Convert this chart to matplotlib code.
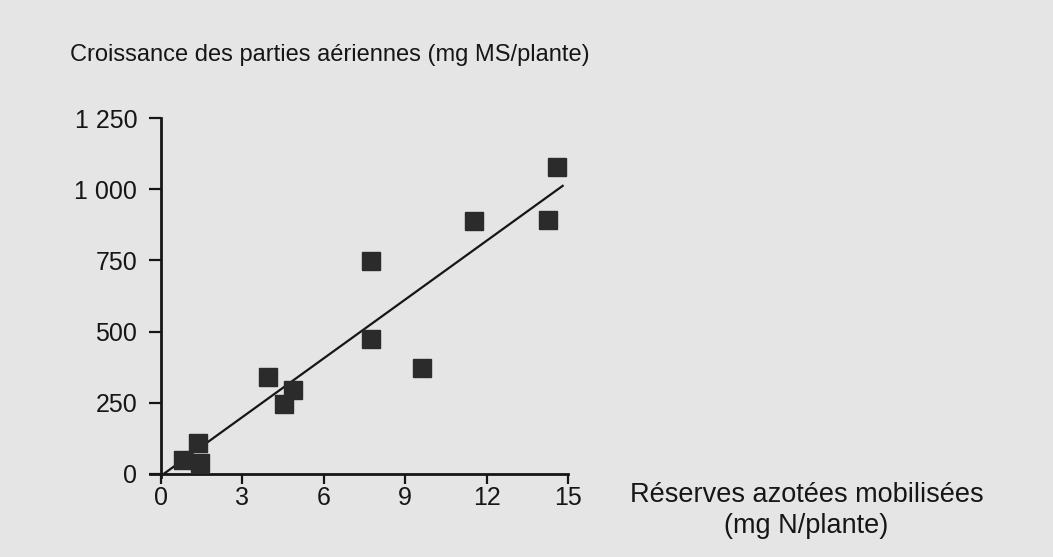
import matplotlib
matplotlib.use("Agg")
import matplotlib.pyplot as plt

# Reserves (mg N/plante) vs shoot growth (mg MS/plante)
reserves = [0.8, 1.35, 1.45, 3.95, 4.55, 4.85, 7.75, 7.75, 9.6, 11.55, 14.25, 14.6]
croissance = [50, 110, 38, 340, 245, 296, 748, 474, 372, 888, 892, 1078]

# regression line
fit_x = [0.1, 14.8]
fit_y = [0, 1012]

x_ticks = [0, 3, 6, 9, 12, 15]
y_ticks = [0, 250, 500, 750, 1000, 1250]
y_tick_labels = ["0", "250", "500", "750", "1 000", "1 250"]

plt.rcParams["font.family"] = ["Liberation Sans", "DejaVu Sans"]
bg = "#e5e5e5"
ink = "#161616"

fig = plt.figure(figsize=(10.53, 5.57), dpi=100, facecolor=bg)
ax = fig.add_axes([0.1425, 0.144, 0.397, 0.644])
ax.set_facecolor(bg)

ax.plot(fit_x, fit_y, color=ink, lw=1.6, zorder=2)
ax.plot(reserves, croissance, "s", color="#2b2b2b", markersize=13, zorder=3)

ax.set_xlim(-0.4, 15)
ax.set_ylim(-10, 1250)
for s in ["top", "right"]:
    ax.spines[s].set_visible(False)
ax.spines["left"].set_position(("data", 0))
ax.spines["bottom"].set_position(("data", 0))
for s in ["left", "bottom"]:
    ax.spines[s].set_linewidth(2)
    ax.spines[s].set_color(ink)

ax.set_xticks(x_ticks)
ax.set_yticks(y_ticks)
ax.set_yticklabels(y_tick_labels)
ax.tick_params(axis="y", length=9, width=1.6, pad=8, labelsize=18, colors=ink)
ax.tick_params(axis="x", length=7, width=1.6, pad=2, labelsize=18, colors=ink)

fig.text(0.0665, 0.901, "Croissance des parties aériennes (mg MS/plante)",
         fontsize=17, color=ink, va="center", ha="left")
fig.text(0.766, 0.084, "Réserves azotées mobilisées\n(mg N/plante)",
         fontsize=19.5, color=ink, va="center", ha="center", multialignment="center",
         linespacing=1.25)

fig.savefig("out.png", dpi=100, facecolor=bg)
